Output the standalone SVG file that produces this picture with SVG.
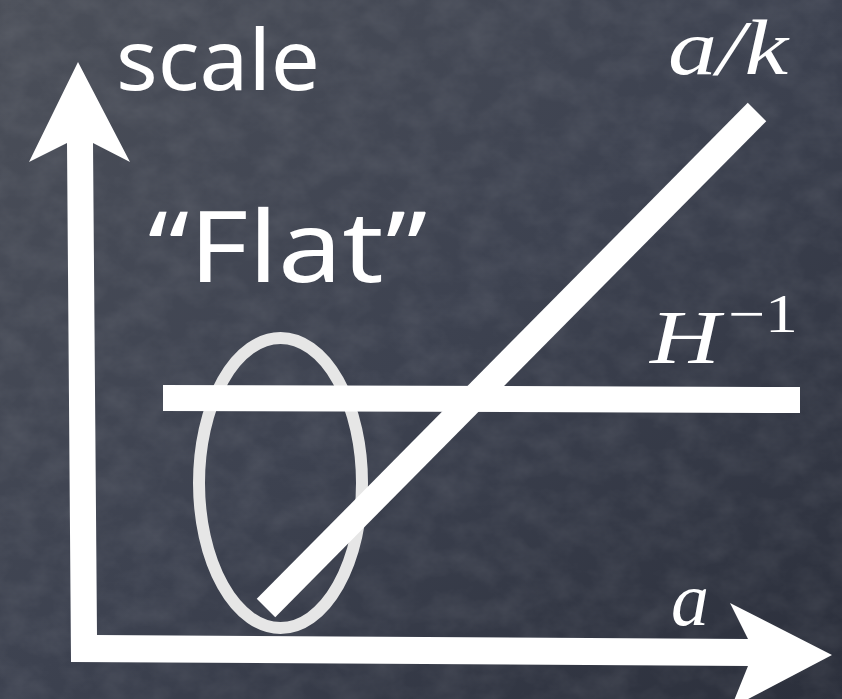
<svg xmlns="http://www.w3.org/2000/svg" width="842" height="699" viewBox="0 0 842 699">
  <defs>
    <linearGradient id="bg" x1="0" y1="0" x2="1" y2="1">
      <stop offset="0" stop-color="#4b4f59"/>
      <stop offset="0.5" stop-color="#3d4250"/>
      <stop offset="1" stop-color="#2b2f3b"/>
    </linearGradient>
    <filter id="chalk" x="0" y="0" width="100%" height="100%">
      <feTurbulence type="fractalNoise" baseFrequency="0.03 0.04" numOctaves="4" seed="3"/>
      <feColorMatrix type="matrix" values="0 0 0 0 1  0 0 0 0 1  0 0 0 0 1  0 0 0 0.12 -0.04"/>
    </filter>
    <style>
      .chalk { fill: #ffffff; }
      .hand { font-family: "Comic Sans MS", "Noto Sans", "DejaVu Sans", sans-serif; fill: #ffffff; }
      .math { font-family: "Liberation Serif", "DejaVu Serif", serif; font-style: italic; fill: #ffffff; }
      .mathup { font-family: "Liberation Serif", "DejaVu Serif", serif; fill: #ffffff; }
    </style>
  </defs>

  <rect width="842" height="699" fill="url(#bg)"/>
  <rect width="842" height="699" filter="url(#chalk)"/>

  <g id="flat-region">
    <ellipse cx="280.5" cy="483" rx="81.5" ry="145" fill="none" stroke="#e6e6e6" stroke-width="12"/>
  </g>

  <g id="connectors">
    <path id="axes" class="chalk" d="M78,62 L130,162 L93,143 L97,635 L748,639 L730,603 L832,655 L731,708 L748,666 L71,662 L67,143 L29,162 Z"/>
    <polygon id="hubble-line" class="chalk" points="163,385 800,387 800,413 163,411"/>
    <line id="ak-line" x1="266" y1="608" x2="757" y2="112" stroke="#ffffff" stroke-width="26"/>
  </g>

  <g id="labels">
    <text id="label-scale" class="hand" x="116" y="90" font-size="84" textLength="204" lengthAdjust="spacingAndGlyphs">scale</text>
    <text id="label-flat" class="hand" x="148" y="282" font-size="98" textLength="279" lengthAdjust="spacingAndGlyphs">“Flat”</text>
    <text id="label-ak" class="math" x="668" y="74" font-size="78" textLength="120" lengthAdjust="spacingAndGlyphs">a/k</text>
    <g id="label-hinv">
      <text class="math" x="650" y="363" font-size="76" textLength="70" lengthAdjust="spacingAndGlyphs">H</text>
      <text class="mathup" x="728" y="332" font-size="54" textLength="70" lengthAdjust="spacingAndGlyphs">−1</text>
    </g>
    <text id="label-a" class="math" x="671" y="625" font-size="76" textLength="38" lengthAdjust="spacingAndGlyphs">a</text>
  </g>
</svg>
